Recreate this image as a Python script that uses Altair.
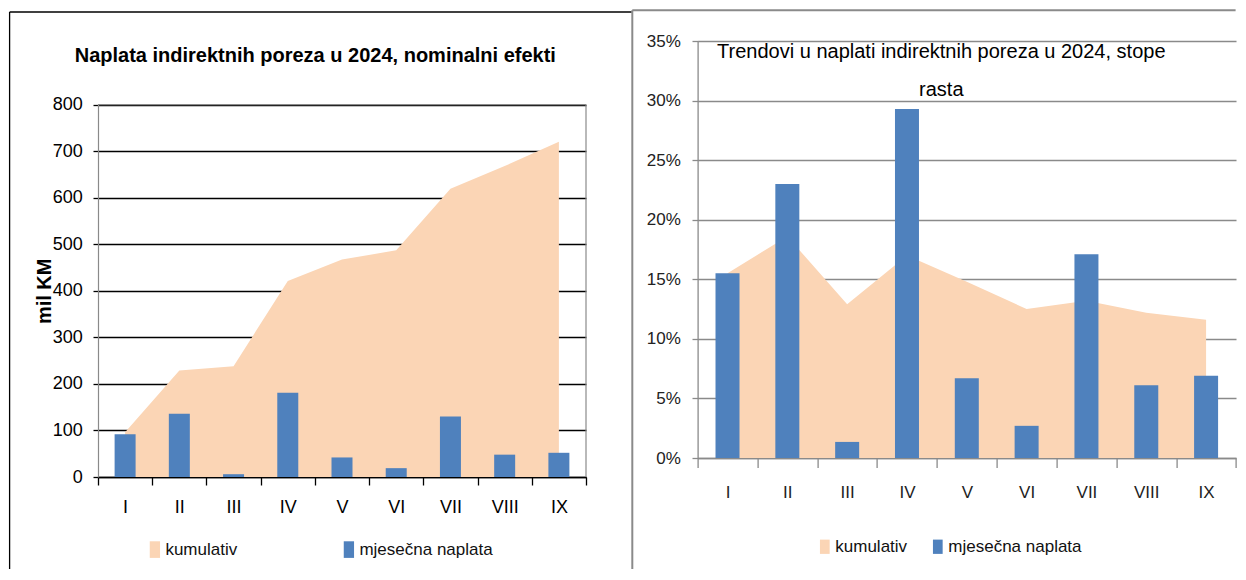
import altair as alt
import pandas as pd

# ---------------- data ----------------
months = ["I", "II", "III", "IV", "V", "VI", "VII", "VIII", "IX"]
series_names = ["kumulativ", "mjesečna naplata"]

# left panel: nominal effects (mil KM)
nominal_cumulative = [96, 229, 238, 421, 467, 487, 619, 668, 720]
nominal_monthly = [92, 136, 6, 181, 42, 19, 130, 48, 52]

# right panel: growth rates
growth_cumulative = [0.155, 0.186, 0.129, 0.170, 0.148, 0.125, 0.132, 0.122, 0.116]
growth_monthly = [0.155, 0.230, 0.0135, 0.293, 0.067, 0.027, 0.171, 0.061, 0.069]

left_ticks = [0, 100, 200, 300, 400, 500, 600, 700, 800]
right_ticks = [0.0, 0.05, 0.10, 0.15, 0.20, 0.25, 0.30, 0.35]

left_title = "Naplata indirektnih poreza u 2024, nominalni efekti"
right_title = ["Trendovi u naplati indirektnih poreza u 2024, stope", "rasta"]
left_y_title = "mil KM"

# ---------------- styles ----------------
PEACH = "#FBD5B5"
BLUE = "#4F81BD"
GRAY = "#8a8a8a"
FONT = "Liberation Sans"

left_df = pd.DataFrame({
    "mjesec": months * 2,
    "serija": [series_names[0]] * 9 + [series_names[1]] * 9,
    "vrijednost": nominal_cumulative + nominal_monthly,
})
right_df = pd.DataFrame({
    "mjesec": months * 2,
    "serija": [series_names[0]] * 9 + [series_names[1]] * 9,
    "vrijednost": growth_cumulative + growth_monthly,
})
one = pd.DataFrame({"k": [0]})

# ---------------- left chart ----------------
LW, LH = 488, 436
lx = alt.X("mjesec:N", sort=months, title=None,
           scale=alt.Scale(paddingInner=0, paddingOuter=0),
           axis=alt.Axis(labelAngle=0, labelFont=FONT, labelFontSize=18,
                         labelColor="black", labelPadding=13, tickSize=8,
                         tickColor="black", tickWidth=1.3, domainColor="black",
                         domainWidth=1.6, tickBand="extent", grid=False))
ly = alt.Y("vrijednost:Q",
           scale=alt.Scale(domain=[0, 800], range=[LH, 63.6], nice=False),
           axis=alt.Axis(values=left_ticks, title=left_y_title, grid=True,
                         gridColor="black", gridWidth=1.3, tickSize=5,
                         tickColor="black", tickWidth=1.3, domainColor=GRAY,
                         domainWidth=1.2, labelFont=FONT, labelFontSize=18,
                         labelColor="black", labelPadding=10.7,
                         titleFont=FONT, titleFontSize=20,
                         titleFontWeight="bold", titleColor="black",
                         titleAngle=270, titleX=-53.7, titleY=249.8,
                         titleAlign="center", titleBaseline="middle"))
lcolor = alt.Color("serija:N",
                   scale=alt.Scale(domain=series_names, range=[PEACH, BLUE]),
                   legend=alt.Legend(title=None, orient="none", legendX=48.4,
                                     legendY=500, direction="horizontal",
                                     symbolType="M-0.62,-1H0.62V1H-0.62Z",
                                     symbolSize=276, symbolStrokeWidth=0,
                                     symbolOpacity=1, labelFont=FONT,
                                     labelFontSize=17, labelColor="#111",
                                     labelOffset=2, columnPadding=103,
                                     padding=0))

lbase = alt.Chart(left_df)
l_area = lbase.transform_filter(alt.datum.serija == series_names[0]).mark_area(
    opacity=1).encode(x=lx, y=ly, color=lcolor)
l_bar = lbase.transform_filter(alt.datum.serija == series_names[1]).mark_bar(
    width=21).encode(x=lx, y=ly, color=lcolor)
l_plot_top = alt.Chart(one).mark_rule(color=GRAY, strokeWidth=1.2).encode(
    y=alt.datum(800))
l_plot_right = alt.Chart(one).mark_rule(color=GRAY, strokeWidth=1.2).encode(
    x=alt.value(LW), y=alt.datum(0), y2=alt.datum(800))
l_frame_left = alt.Chart(one).mark_rule(color="black", strokeWidth=1.3).encode(
    x=alt.value(-88.4), y=alt.value(-29), y2=alt.value(528))
l_frame_top = alt.Chart(one).mark_rule(color="black", strokeWidth=1.3).encode(
    x=alt.value(-88.4), x2=alt.value(533.8), y=alt.value(-29))

left = alt.layer(l_area, l_bar, l_plot_top, l_plot_right, l_frame_left,
                 l_frame_top).properties(
    width=LW, height=LH,
    title=alt.TitleParams(text=left_title, font=FONT, fontSize=20,
                          fontWeight="bold", color="black", anchor="middle",
                          frame="group", offset=0, dx=-26.7, dy=54.5))

# ---------------- right chart ----------------
RW, RH = 538.4, 417
rx = alt.X("mjesec:N", sort=months, title=None,
           scale=alt.Scale(paddingInner=0, paddingOuter=0),
           axis=alt.Axis(labelAngle=0, labelFont=FONT, labelFontSize=17,
                         labelColor="#222", labelPadding=16.5, tickSize=9.6,
                         tickColor=GRAY, tickWidth=1.3, domainColor=GRAY,
                         domainWidth=1.4, tickBand="extent", grid=False))
ry = alt.Y("vrijednost:Q", scale=alt.Scale(domain=[0, 0.35], nice=False),
           axis=alt.Axis(values=right_ticks, format=".0%", title=None,
                         grid=True, gridColor=GRAY, gridWidth=1.3, tickSize=5.6,
                         tickColor=GRAY, tickWidth=1.3, domainColor=GRAY,
                         domainWidth=1.3, labelFont=FONT, labelFontSize=17,
                         labelColor="#222", labelPadding=11.7))
rcolor = alt.Color("serija:N",
                   scale=alt.Scale(domain=series_names, range=[PEACH, BLUE]),
                   legend=alt.Legend(title=None, orient="none", legendX=118.7,
                                     legendY=497, direction="horizontal",
                                     symbolType="M-0.68,-1H0.68V1H-0.68Z",
                                     symbolSize=204, symbolStrokeWidth=0,
                                     symbolOpacity=1, labelFont=FONT,
                                     labelFontSize=17, labelColor="#111",
                                     labelOffset=2, columnPadding=22,
                                     padding=0))

rbase = alt.Chart(right_df)
r_area = rbase.transform_filter(alt.datum.serija == series_names[0]).mark_area(
    opacity=1).encode(x=rx, y=ry, color=rcolor)
r_bar = rbase.transform_filter(alt.datum.serija == series_names[1]).mark_bar(
    width=24).encode(x=rx, y=ry, color=rcolor)
r_frame_left = alt.Chart(one).mark_rule(color=GRAY, strokeWidth=2).encode(
    x=alt.value(-65.3), y=alt.value(-30.7), y2=alt.value(528))
r_frame_top = alt.Chart(one).mark_rule(color=GRAY, strokeWidth=2).encode(
    x=alt.value(-65.3), x2=alt.value(538), y=alt.value(-30.7))

right = alt.layer(r_area, r_bar, r_frame_left, r_frame_top).properties(
    width=RW, height=RH,
    title=alt.TitleParams(text=right_title, font=FONT, fontSize=20,
                          fontWeight="normal", color="black", anchor="middle",
                          frame="group", offset=0, lineHeight=38,
                          dx=-25.5, dy=91))

chart = alt.hconcat(left, right, spacing=111.6, bounds="flush").resolve_scale(
    color="independent", x="independent", y="independent"
).resolve_legend(color="independent").properties(
    padding={"left": 0, "top": 0, "right": 0, "bottom": 0},
    background="white",
).configure_view(stroke="transparent")

chart.save("out.html", embed_options={"renderer": "svg", "actions": False})
